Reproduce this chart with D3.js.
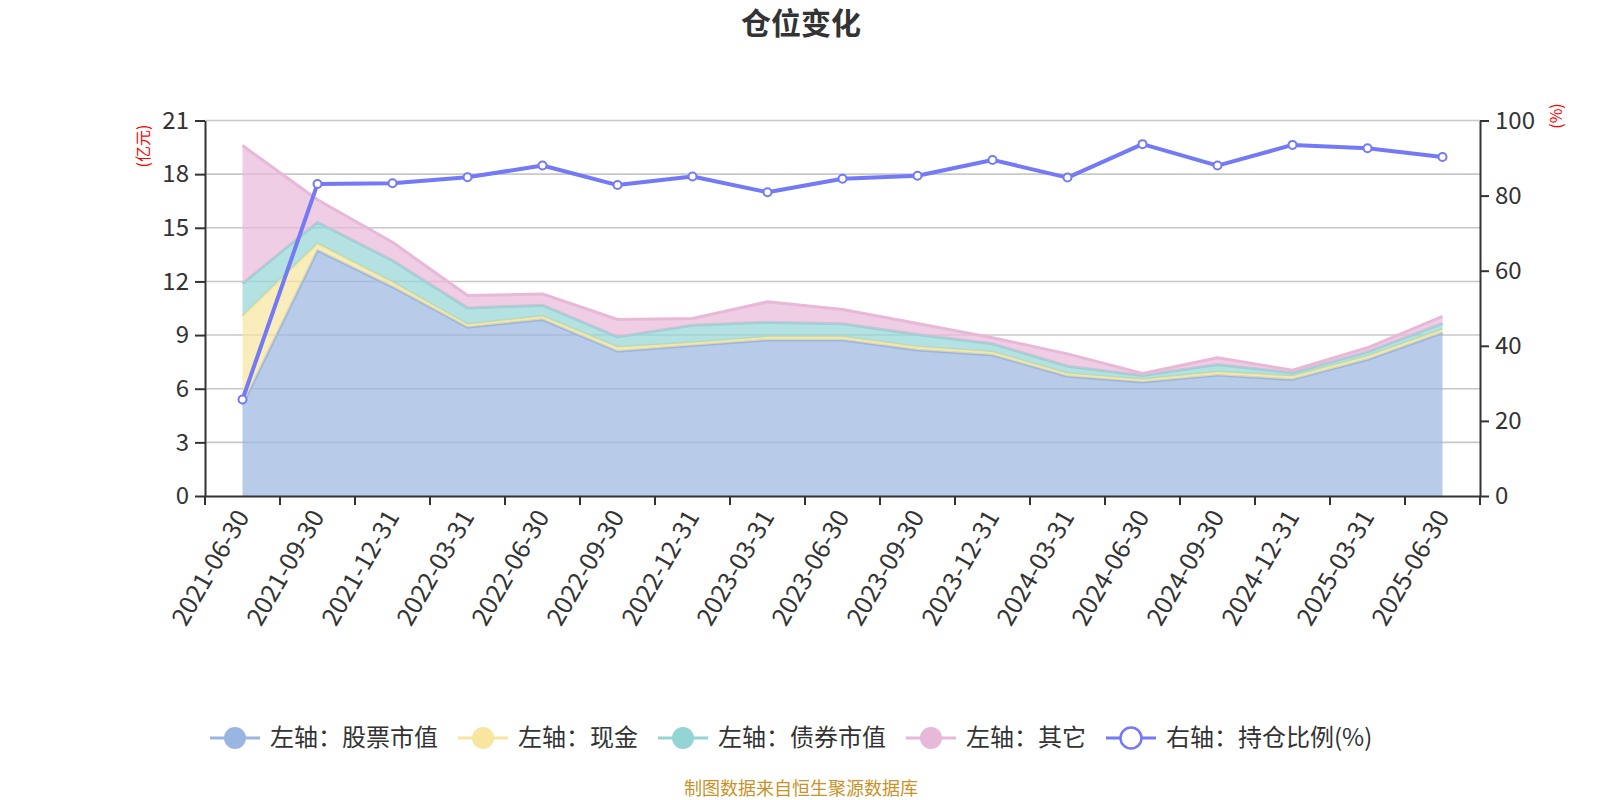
<!DOCTYPE html>
<html>
<head>
<meta charset="utf-8">
<title>仓位变化</title>
<script src="https://d3js.org/d3.v7.min.js"></script>
<style>
  body { margin: 0; background: #fff; }
  text { font-family: "Noto Sans CJK SC", "Noto Sans", sans-serif; }
</style>
</head>
<body>
<script>
// report dates
var dates = ["2021-06-30","2021-09-30","2021-12-31","2022-03-31","2022-06-30","2022-09-30",
  "2022-12-31","2023-03-31","2023-06-30","2023-09-30","2023-12-31","2024-03-31",
  "2024-06-30","2024-09-30","2024-12-31","2025-03-31","2025-06-30"];

// left axis, 亿元 (stacked)
var stock = [5.1, 13.74, 11.7, 9.44, 9.87, 8.1, 8.42, 8.72, 8.72, 8.16, 7.88, 6.7, 6.37, 6.76, 6.52, 7.63, 9.13];
var cash  = [4.96, 0.37, 0.25, 0.15, 0.18, 0.22, 0.15, 0.18, 0.18, 0.18, 0.17, 0.15, 0.15, 0.17, 0.18, 0.19, 0.18];
var bond  = [1.82, 1.2, 1.22, 0.93, 0.62, 0.58, 0.98, 0.82, 0.73, 0.69, 0.46, 0.41, 0.22, 0.43, 0.19, 0.24, 0.34];
var other = [7.72, 1.26, 1.02, 0.69, 0.63, 0.97, 0.38, 1.14, 0.8, 0.62, 0.34, 0.69, 0.11, 0.37, 0.15, 0.23, 0.4];

// right axis, %
var ratio = [25.7, 83.1, 83.3, 84.9, 88.0, 82.8, 85.1, 80.9, 84.5, 85.3, 89.5, 84.8, 93.7, 88.0, 93.5, 92.6, 90.3];

var leftTicks = [0, 3, 6, 9, 12, 15, 18, 21];
var rightTicks = [0, 20, 40, 60, 80, 100];

var seriesNames = ["左轴：股票市值", "左轴：现金", "左轴：债券市值", "左轴：其它"];
var ratioName = "右轴：持仓比例(%)";
var colors = ["#9ab6e0", "#f8e6a0", "#94d4d4", "#e8b8d8"];
var lineColor = "#7479f5";

var W = 1600, H = 800;
var plotLeft = 205, plotRight = 1480, plotTop = 120.5, plotBottom = 496;

var svg = d3.select("body").append("svg")
    .attr("width", W)
    .attr("height", H);

// title
svg.append("text")
    .attr("x", 801).attr("y", 34)
    .attr("text-anchor", "middle")
    .style("font-size", "30px").style("font-weight", "bold")
    .attr("fill", "#333")
    .text("仓位变化");

var x = d3.scaleBand().domain(dates).range([plotLeft, plotRight]);
var yL = d3.scaleLinear().domain([0, 21]).range([plotBottom, plotTop]);
var yR = d3.scaleLinear().domain([0, 100]).range([plotBottom, plotTop]);

// grid lines
svg.append("g")
  .selectAll("line")
  .data(leftTicks.slice(1))
  .join("line")
    .attr("x1", plotLeft).attr("x2", plotRight)
    .attr("y1", function(d) { return yL(d); })
    .attr("y2", function(d) { return yL(d); })
    .attr("stroke", "#c8c8c8")
    .attr("stroke-width", 1.6);

// stacked areas
var keys = ["stock", "cash", "bond", "other"];
var rows = dates.map(function(d, i) {
  return { date: d, stock: stock[i], cash: cash[i], bond: bond[i], other: other[i] };
});
var stacked = d3.stack().keys(keys)(rows);

var cx = function(d) { return x(d.data.date) + x.bandwidth() / 2; };
var area = d3.area()
    .x(cx)
    .y0(function(d) { return yL(d[0]); })
    .y1(function(d) { return yL(d[1]); });
var topLine = d3.line()
    .x(cx)
    .y(function(d) { return yL(d[1]); });

var layers = svg.append("g").selectAll("g")
  .data(stacked)
  .join("g");

layers.append("path")
    .attr("d", area)
    .attr("fill", function(d, i) { return colors[i]; })
    .attr("fill-opacity", 0.7);

layers.append("path")
    .attr("d", topLine)
    .attr("fill", "none")
    .attr("stroke", function(d, i) { return colors[i]; })
    .attr("stroke-width", 3)
    .attr("stroke-linejoin", "round");

// axes
var axisStyle = function(g) {
  g.selectAll("path, line").attr("stroke", "#333").attr("stroke-width", 2);
  g.selectAll("text")
    .attr("fill", "#333")
    .style("font-size", "24px")
    .style("font-family", "'Noto Sans CJK SC', sans-serif");
};

svg.append("g")
    .attr("transform", "translate(" + plotLeft + ",0)")
    .call(d3.axisLeft(yL).tickValues(leftTicks).tickSize(10).tickSizeOuter(0).tickPadding(6))
    .call(axisStyle);

svg.append("g")
    .attr("transform", "translate(" + plotRight + ",0)")
    .call(d3.axisRight(yR).tickValues(rightTicks).tickSize(9).tickSizeOuter(0).tickPadding(6))
    .call(axisStyle);

var xg = svg.append("g")
    .attr("transform", "translate(0," + plotBottom + ")")
    .call(d3.axisBottom(x).tickSize(0).tickSizeOuter(0).tickFormat(""))
    .call(axisStyle);

// ticks at band boundaries
xg.selectAll(".bound")
  .data(d3.range(dates.length + 1))
  .join("line")
    .attr("class", "bound")
    .attr("x1", function(i) { return plotLeft + i * x.step(); })
    .attr("x2", function(i) { return plotLeft + i * x.step(); })
    .attr("y1", 0).attr("y2", 9)
    .attr("stroke", "#333").attr("stroke-width", 2);

xg.selectAll(".lbl")
  .data(dates)
  .join("text")
    .attr("class", "lbl")
    .attr("transform", function(d) {
      return "translate(" + (x(d) + x.bandwidth() / 2) + ",16) rotate(-60)";
    })
    .attr("text-anchor", "end")
    .attr("dy", "0.35em")
    .attr("fill", "#333")
    .style("font-size", "25px")
    .text(function(d) { return d; });

// axis names
svg.append("text")
    .attr("transform", "translate(143,146) rotate(-90)")
    .attr("text-anchor", "middle")
    .attr("dy", "0.35em")
    .attr("fill", "#ff0000")
    .style("font-size", "16px")
    .text("(亿元)");

svg.append("text")
    .attr("transform", "translate(1556,116) rotate(-90)")
    .attr("text-anchor", "middle")
    .attr("dy", "0.35em")
    .attr("fill", "#ff0000")
    .style("font-size", "16px")
    .text("(%)");

// ratio line
var ratioLine = d3.line()
    .x(function(d, i) { return x(dates[i]) + x.bandwidth() / 2; })
    .y(function(d) { return yR(d); });

svg.append("path")
    .datum(ratio)
    .attr("d", ratioLine)
    .attr("fill", "none")
    .attr("stroke", lineColor)
    .attr("stroke-width", 4)
    .attr("stroke-linejoin", "round");

svg.append("g").selectAll("circle")
  .data(ratio)
  .join("circle")
    .attr("cx", function(d, i) { return x(dates[i]) + x.bandwidth() / 2; })
    .attr("cy", function(d) { return yR(d); })
    .attr("r", 4)
    .attr("fill", "#fff")
    .attr("stroke", lineColor)
    .attr("stroke-width", 2);

// legend
var legendItems = seriesNames.map(function(n, i) { return { name: n, color: colors[i], hollow: false }; });
legendItems.push({ name: ratioName, color: lineColor, hollow: true });

var lx = 210, ly = 738;
var legend = svg.append("g");
legendItems.forEach(function(it) {
  var g = legend.append("g").attr("transform", "translate(" + lx + "," + ly + ")");
  g.append("line")
      .attr("x1", 0).attr("x2", 50)
      .attr("stroke", it.color).attr("stroke-width", 3);
  g.append("circle")
      .attr("cx", 25).attr("r", it.hollow ? 10.5 : 11)
      .attr("fill", it.hollow ? "#fff" : it.color)
      .attr("stroke", it.hollow ? it.color : "none")
      .attr("stroke-width", 2.5);
  var t = g.append("text")
      .attr("x", 60)
      .attr("dy", "0.35em")
      .attr("fill", "#333")
      .style("font-size", "24px")
      .text(it.name);
  lx += 60 + t.node().getComputedTextLength() + 20;
});

// footer
svg.append("text")
    .attr("x", 801).attr("y", 795)
    .attr("text-anchor", "middle")
    .attr("fill", "#c8922a")
    .style("font-size", "18px")
    .text("制图数据来自恒生聚源数据库");
</script>
</body>
</html>
